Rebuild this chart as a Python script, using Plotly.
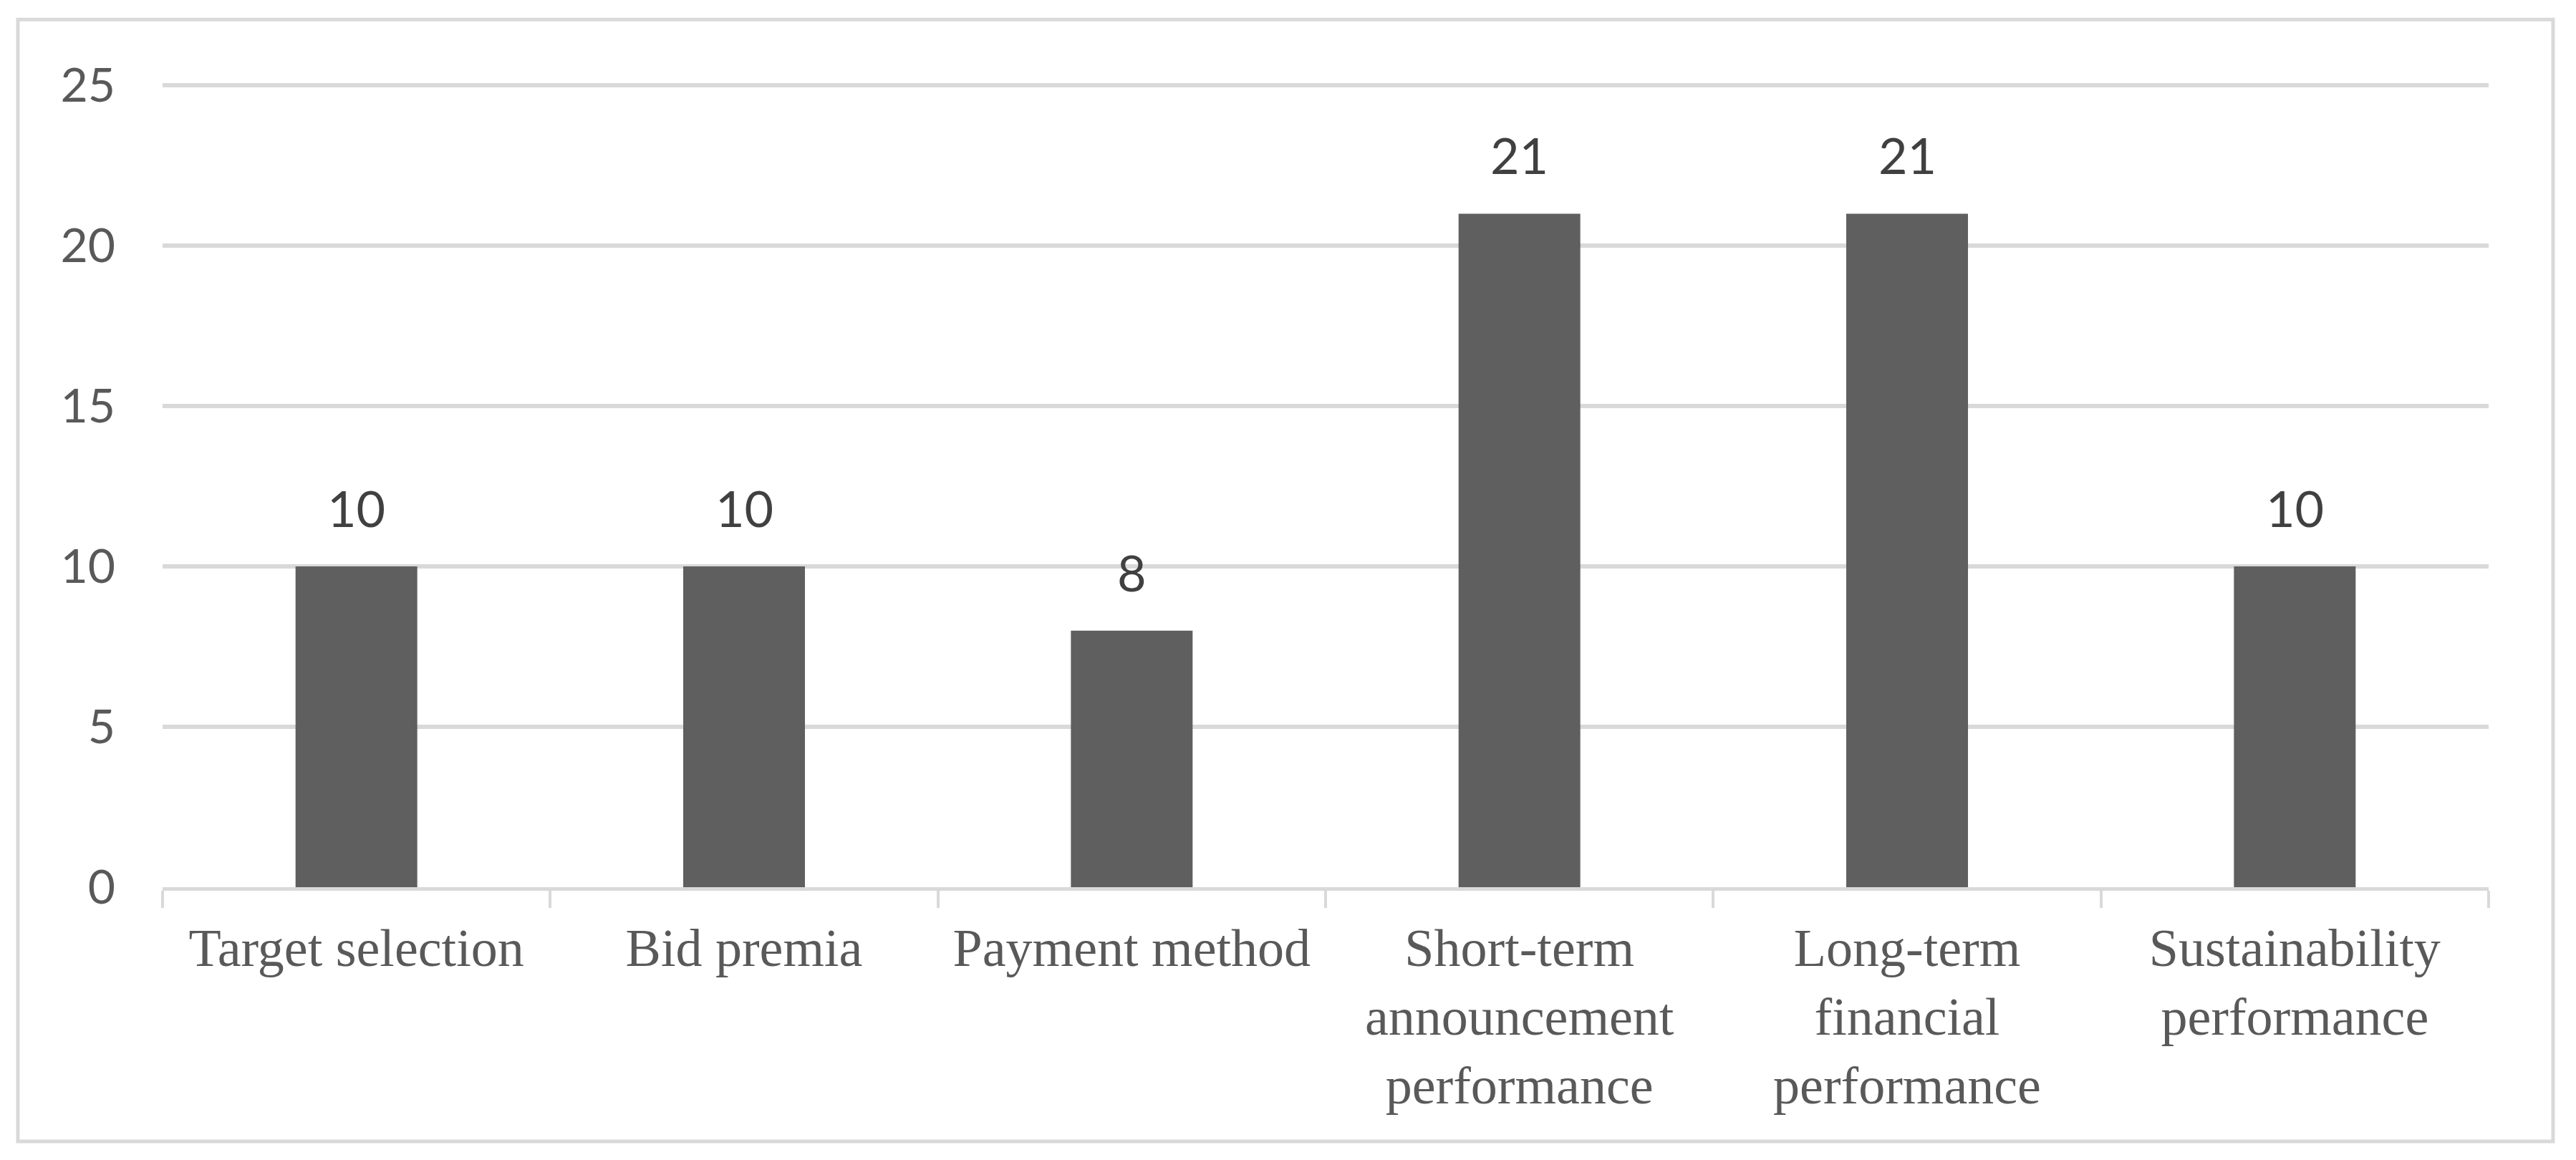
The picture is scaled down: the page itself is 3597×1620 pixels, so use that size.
import plotly.graph_objects as go

categories = ["Target selection", "Bid premia", "Payment method",
              "Short-term<br>announcement<br>performance",
              "Long-term<br>financial<br>performance",
              "Sustainability<br>performance"]
values = [10, 10, 8, 21, 21, 10]
y_ticks = [0, 5, 10, 15, 20, 25]

fig = go.Figure()
fig.add_trace(go.Bar(x=categories, y=values, marker=dict(color="#5f5f5f", line=dict(width=0)),
                     hoverinfo="skip"))

for c, v in zip(categories, values):
    fig.add_annotation(x=c, y=v, text=str(v), showarrow=False, xref="x", yref="y",
                       yanchor="bottom", yshift=38,
                       font=dict(family="Lato, Open Sans, sans-serif", size=70, color="#404040"))

fig.add_shape(type="rect", xref="paper", yref="paper", x0=-0.0622, x1=1.0277, y0=-0.3164, y1=1.080,
              line=dict(color="#d9d9d9", width=5), fillcolor="rgba(0,0,0,0)", layer="below")

fig.update_layout(
    width=3597, height=1620,
    margin=dict(l=219, r=130, t=109, b=389),
    paper_bgcolor="white", plot_bgcolor="white",
    bargap=0.686, showlegend=False,
    xaxis=dict(type="category", showline=True, linecolor="#d9d9d9", linewidth=5,
               ticks="outside", tickson="boundaries", ticklen=24, tickwidth=4, tickcolor="#d9d9d9",
               showgrid=False, tickangle=0, ticklabelstandoff=16,
               tickfont=dict(family="Liberation Serif, Times New Roman, serif", size=74, color="#595959")),
    yaxis=dict(range=[0, 25.05], tickvals=y_ticks, showgrid=True, gridcolor="#d9d9d9", gridwidth=6,
               zeroline=False, showline=False, ticks="", ticklabelstandoff=65,
               tickfont=dict(family="Lato, Open Sans, sans-serif", size=66, color="#595959")),
)

fig.write_html("out.html")
